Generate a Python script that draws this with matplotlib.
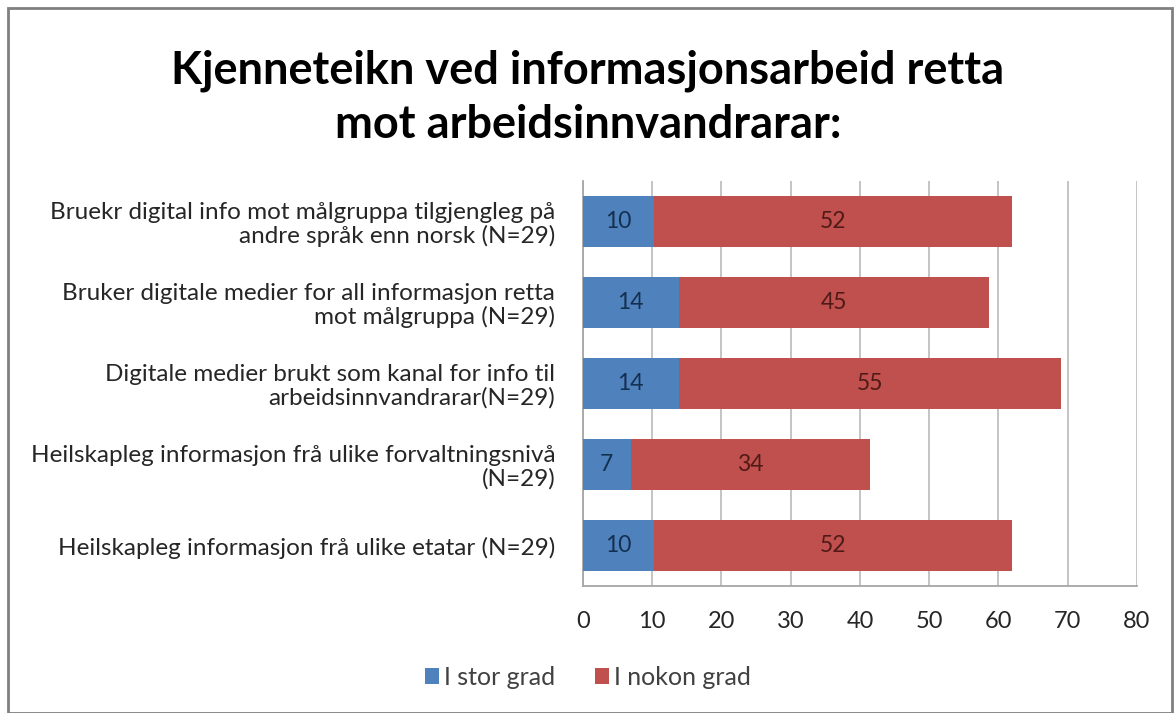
import matplotlib.pyplot as plt
from matplotlib.patches import Rectangle

plt.rcParams['font.family'] = ['Lato', 'DejaVu Sans']

kategoriar = [
    "Bruekr digital info mot målgruppa tilgjengleg på\nandre språk enn norsk (N=29)",
    "Bruker digitale medier for all informasjon retta\nmot målgruppa (N=29)",
    "Digitale medier brukt som kanal for info til\narbeidsinnvandrarar(N=29)",
    "Heilskapleg informasjon frå ulike forvaltningsnivå\n(N=29)",
    "Heilskapleg informasjon frå ulike etatar (N=29)",
]
stor_grad = [10.3, 13.8, 13.8, 6.9, 10.3]
nokon_grad = [51.7, 44.8, 55.2, 34.5, 51.7]
serienamn = ["I stor grad", "I nokon grad"]
x_ticks = [0, 10, 20, 30, 40, 50, 60, 70, 80]
tittel = "Kjenneteikn ved informasjonsarbeid retta\nmot arbeidsinnvandrarar:"

blaa = '#4F81BD'
raud = '#C0504D'

fig = plt.figure(figsize=(11.76, 7.13), dpi=100)
ax = fig.add_axes([0.4957, 0.1781, 0.4711, 0.568])

y = list(range(len(kategoriar)))
b1 = ax.barh(y, stor_grad, height=0.63, color=blaa, label=serienamn[0], zorder=3)
b2 = ax.barh(y, nokon_grad, left=stor_grad, height=0.63, color=raud,
             label=serienamn[1], zorder=3)

# dataetikettar midt i kvart segment
for i in y:
    ax.text(stor_grad[i] / 2, i, f"{stor_grad[i]:.0f}", ha='center', va='center',
            fontsize=16.5, color='#14304F', zorder=4)
    ax.text(stor_grad[i] + nokon_grad[i] / 2, i, f"{nokon_grad[i]:.0f}",
            ha='center', va='center', fontsize=16.5, color='#4F1A18', zorder=4)

ax.set_xlim(0, 80)
ax.set_ylim(4.5, -0.5)
ax.set_xticks(x_ticks)
ax.set_yticks(y)
ax.set_yticklabels(kategoriar, fontsize=17.5, color='#262626', linespacing=1.12)
ax.tick_params(axis='x', labelsize=17, labelcolor='#262626', length=0, pad=18)
ax.tick_params(axis='y', length=0, pad=20)
ax.grid(axis='x', color='#BFBFBF', linewidth=1.3, zorder=0)

for s in ['top', 'right']:
    ax.spines[s].set_visible(False)
ax.spines['left'].set_color('#A6A6A6')
ax.spines['bottom'].set_color('#A6A6A6')
ax.spines['left'].set_linewidth(1.3)
ax.spines['bottom'].set_linewidth(1.3)

fig.text(0.5, 0.863, tittel, ha='center', va='center', fontsize=32.5,
         fontweight='bold', color='black', linespacing=1.35)

fig.legend(handles=[b1, b2], loc='center', bbox_to_anchor=(0.5, 0.05),
           ncol=2, frameon=False, fontsize=18, handlelength=0.55,
           handleheight=0.55, handletextpad=0.2, columnspacing=1.6,
           labelcolor='#404040')

fig.patches.append(Rectangle((0.007, 0.0), 0.99, 0.989, transform=fig.transFigure,
                             fill=False, edgecolor='#808080', linewidth=2))

fig.savefig('out.png', dpi=100)
